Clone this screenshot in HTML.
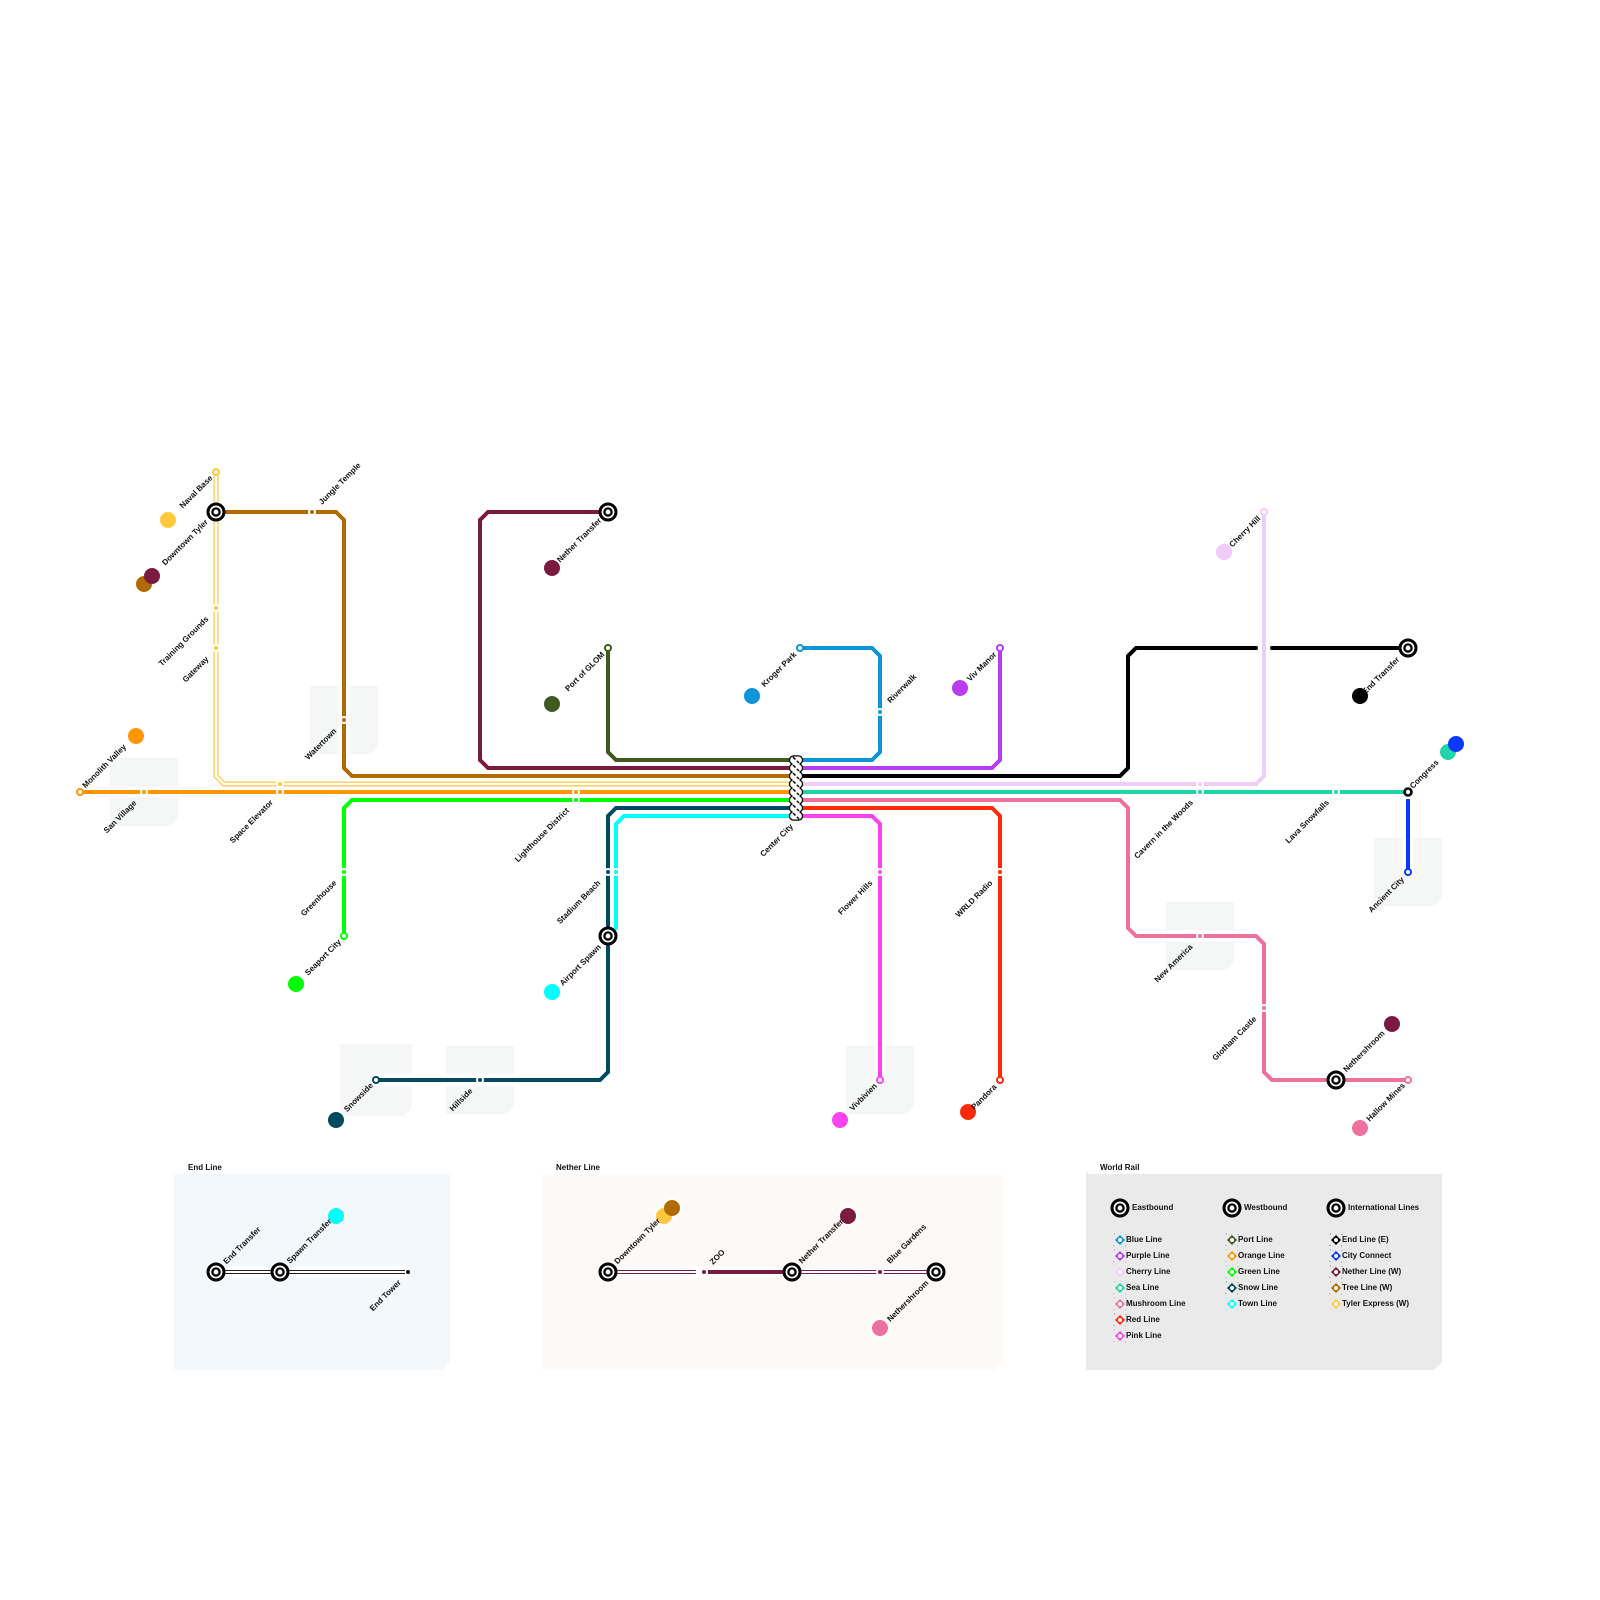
<!DOCTYPE html>
<html><head><meta charset="utf-8"><title>World Rail</title>
<style>
html,body{margin:0;padding:0;background:#fff}
svg{display:block}
text{font-family:"Liberation Sans",Arial,sans-serif;font-weight:700;font-size:8px;fill:#111}
.s{text-anchor:start}.e{text-anchor:end}
.lg{font-size:8px}
.ln path{fill:none;stroke-width:4;stroke-linejoin:miter}
.cs path{fill:none;stroke:#fff;stroke-width:12}
.hb{fill:none;stroke-linecap:round}
</style></head><body>
<svg width="1600" height="1600" viewBox="0 0 1600 1600" xmlns="http://www.w3.org/2000/svg">
<rect width="1600" height="1600" fill="#fff"/>

<!-- water / blocks -->
<g fill="#f5f7f6">
<path d="M110 758h68v60l-8 8h-60z"/>
<path d="M310 686h68v60l-8 8h-60z"/>
<path d="M1374 838h68v60l-8 8h-60z"/>
<path d="M1166 902h68v60l-8 8h-60z"/>
<path d="M340 1044h72v64l-8 8h-64z"/>
<path d="M446 1046h68v60l-8 8h-60z"/>
<path d="M846 1046h68v60l-8 8h-60z"/>
</g>

<!-- inset panels -->
<path d="M174 1174H450V1362l-8 8H174z" fill="#f1f8fe"/>
<path d="M542 1174H1002V1362l-8 8H542z" fill="#fdf9f6"/>
<path d="M1086 1174H1442V1362l-8 8H1086z" fill="#eaeaea"/>
<path d="M1086 1171l3 3h-3z" fill="#eaeaea"/>
<text x="188" y="1170">End Line</text>
<text x="556" y="1170">Nether Line</text>
<text x="1100" y="1170">World Rail</text>

<!-- casings -->
<g class="cs">
<path d="M80 792H789"/>
<path d="M216 512H336L344 520V768L352 776H789"/>
<path d="M216 472V776L224 784H789"/>
<path d="M608 512H488L480 520V760L488 768H789"/>
<path d="M608 648V752L616 760H789"/>
<path d="M344 936V808L352 800H789"/>
<path d="M376 1080H600L608 1072V816L616 808H789"/>
<path d="M608 936L616 928V824L624 816H789"/>
<path d="M800 648H872L880 656V752L872 760H803"/>
<path d="M1000 648V760L992 768H803"/>
<path d="M803 776H1120L1128 768V656L1136 648H1257M1271 648H1408"/>
<path d="M1264 512V776L1256 784H803"/>
<path d="M803 792H1408"/>
<path d="M1408 800V872"/>
<path d="M803 800H1120L1128 808V928L1136 936H1256L1264 944V1072L1272 1080H1408"/>
<path d="M803 808H992L1000 816V1080"/>
<path d="M803 816H872L880 824V1080"/>
<path d="M216 1272H408"/>
<path d="M608 1272H936"/>
</g>

<!-- lines -->
<g class="ln">
<path stroke="#ff9500" d="M80 792H789"/>
<path stroke="#b06a00" d="M216 512H336L344 520V768L352 776H789"/>
<path stroke="#ffc83d" style="stroke-width:5" d="M216 472V776L224 784H789"/>
<path stroke="#fff" style="stroke-width:2.6" d="M216 472V776L224 784H789"/>
<path stroke="#7a1a40" d="M608 512H488L480 520V760L488 768H789"/>
<path stroke="#3e5a1e" d="M608 648V752L616 760H789"/>
<path stroke="#00ff00" d="M344 936V808L352 800H789"/>
<path stroke="#004a60" d="M376 1080H600L608 1072V816L616 808H789"/>
<path stroke="#00ffff" d="M608 936L616 928V824L624 816H789"/>
<path stroke="#0c94d8" d="M800 648H872L880 656V752L872 760H803"/>
<path stroke="#b83cf0" d="M1000 648V760L992 768H803"/>
<path stroke="#000" d="M803 776H1120L1128 768V656L1136 648H1256"/>
<path stroke="#000" d="M1272 648H1408"/>
<path stroke="#f0ccfa" d="M1264 512V776L1256 784H803"/>
<path stroke="#20d4a8" d="M803 792H1408"/>
<path stroke="#0a38ff" d="M1408 799V872"/>
<path stroke="#ee709f" d="M803 800H1120L1128 808V928L1136 936H1256L1264 944V1072L1272 1080H1408"/>
<path stroke="#ff2a0a" d="M803 808H992L1000 816V1080"/>
<path stroke="#fa44f0" d="M803 816H872L880 824V1080"/>
<!-- End line inset -->
<path stroke="#222" style="stroke-width:4" d="M216 1272H405"/>
<path stroke="#fff" style="stroke-width:2" d="M216 1272H405"/>
<!-- Nether inset -->
<path stroke="#7a1a40" style="stroke-width:4" d="M608 1272H696M792 1272H936"/>
<path stroke="#fff" style="stroke-width:2" d="M608 1272H696M792 1272H936"/>
<path stroke="#7a1a40" d="M708 1272H792"/>
</g>

<!-- black crossing caps -->
<circle cx="1256" cy="648" r="2" fill="#000"/><circle cx="1272" cy="648" r="2" fill="#000"/>

<!-- small stations: halo + dot -->
<g fill="#fff">
<circle cx="312" cy="512" r="4"/><circle cx="344" cy="720" r="4"/><circle cx="216" cy="608" r="4"/><circle cx="216" cy="648" r="4"/>
<circle cx="144" cy="792" r="4"/><circle cx="280" cy="792" r="4"/><circle cx="280" cy="784" r="4"/>
<circle cx="576" cy="792" r="4"/><circle cx="576" cy="800" r="4"/><circle cx="344" cy="872" r="4"/>
<circle cx="608" cy="872" r="4"/><circle cx="616" cy="872" r="4"/><circle cx="480" cy="1080" r="4"/>
<circle cx="880" cy="712" r="4"/><circle cx="880" cy="872" r="4"/><circle cx="1000" cy="872" r="4"/>
<circle cx="1200" cy="784" r="4"/><circle cx="1200" cy="792" r="4"/><circle cx="1336" cy="792" r="4"/>
<circle cx="1200" cy="936" r="4"/><circle cx="1264" cy="1008" r="4"/>
<circle cx="880" cy="1272" r="4"/>
</g>
<circle cx="312" cy="512" r="2" fill="#b06a00"/><circle cx="344" cy="720" r="2" fill="#b06a00"/>
<circle cx="216" cy="608" r="2" fill="#ffc83d"/><circle cx="216" cy="648" r="2" fill="#ffc83d"/><circle cx="280" cy="784" r="2" fill="#ffc83d"/>
<circle cx="144" cy="792" r="2" fill="#ff9500"/><circle cx="280" cy="792" r="2" fill="#ff9500"/><circle cx="576" cy="792" r="2" fill="#ff9500"/>
<circle cx="576" cy="800" r="2" fill="#00ff00"/><circle cx="344" cy="872" r="2" fill="#00ff00"/>
<circle cx="608" cy="872" r="2" fill="#004a60"/><circle cx="480" cy="1080" r="2" fill="#004a60"/><circle cx="616" cy="872" r="2" fill="#00ffff"/>
<circle cx="880" cy="712" r="2" fill="#0c94d8"/><circle cx="880" cy="872" r="2" fill="#fa44f0"/><circle cx="1000" cy="872" r="2" fill="#ff2a0a"/>
<circle cx="1200" cy="784" r="2" fill="#f0ccfa"/><circle cx="1200" cy="792" r="2" fill="#20d4a8"/><circle cx="1336" cy="792" r="2" fill="#20d4a8"/>
<circle cx="1200" cy="936" r="2" fill="#ee709f"/><circle cx="1264" cy="1008" r="2" fill="#ee709f"/>
<circle cx="408" cy="1272" r="2" fill="#111"/><circle cx="704" cy="1272" r="2" fill="#7a1a40"/><circle cx="880" cy="1272" r="2" fill="#7a1a40"/>

<!-- terminals -->
<g fill="#fff" stroke-width="2">
<circle cx="216" cy="472" r="3" stroke="#ffc83d"/>
<circle cx="80" cy="792" r="3" stroke="#ff9500"/>
<circle cx="608" cy="648" r="3" stroke="#3e5a1e"/>
<circle cx="800" cy="648" r="3" stroke="#0c94d8"/>
<circle cx="1000" cy="648" r="3" stroke="#b83cf0"/>
<circle cx="1264" cy="512" r="3" stroke="#f0ccfa"/>
<circle cx="344" cy="936" r="3" stroke="#00ff00"/>
<circle cx="376" cy="1080" r="3" stroke="#004a60"/>
<circle cx="880" cy="1080" r="3" stroke="#fa44f0"/>
<circle cx="1000" cy="1080" r="3" stroke="#ff2a0a"/>
<circle cx="1408" cy="872" r="3" stroke="#0a38ff"/>
<circle cx="1408" cy="1080" r="3" stroke="#ee709f"/>
</g>
<circle cx="1408" cy="792" r="3.5" fill="#fff" stroke="#000" stroke-width="2.6"/>

<!-- interchanges -->
<g fill="#fff" stroke="#000">
<g stroke-width="3">
<circle cx="216" cy="512" r="8"/><circle cx="608" cy="512" r="8"/><circle cx="608" cy="936" r="8"/>
<circle cx="1408" cy="648" r="8"/><circle cx="1336" cy="1080" r="8"/><circle cx="216" cy="1272" r="8"/>
<circle cx="280" cy="1272" r="8"/><circle cx="608" cy="1272" r="8"/><circle cx="792" cy="1272" r="8"/>
<circle cx="936" cy="1272" r="8"/><circle cx="1120" cy="1208" r="8"/><circle cx="1232" cy="1208" r="8"/><circle cx="1336" cy="1208" r="8"/>
</g>
<g stroke-width="2.3">
<circle cx="216" cy="512" r="3.6"/><circle cx="608" cy="512" r="3.6"/><circle cx="608" cy="936" r="3.6"/>
<circle cx="1408" cy="648" r="3.6"/><circle cx="1336" cy="1080" r="3.6"/><circle cx="216" cy="1272" r="3.6"/>
<circle cx="280" cy="1272" r="3.6"/><circle cx="608" cy="1272" r="3.6"/><circle cx="792" cy="1272" r="3.6"/>
<circle cx="936" cy="1272" r="3.6"/><circle cx="1120" cy="1208" r="3.6"/><circle cx="1232" cy="1208" r="3.6"/><circle cx="1336" cy="1208" r="3.6"/>
</g>
</g>

<!-- hub -->
<g class="hb" stroke="#000" stroke-width="9.6">
<path d="M793.6 760h4.8M793.6 768h4.8M793.6 776h4.8M793.6 784h4.8M793.6 792h4.8M793.6 800h4.8M793.6 808h4.8M793.6 816h4.8"/>
</g>
<path d="M796 760V816" stroke="#000" stroke-width="10" fill="none"/>
<g class="hb" stroke="#fff" stroke-width="7">
<path d="M793.6 760h4.8M793.6 768h4.8M793.6 776h4.8M793.6 784h4.8M793.6 792h4.8M793.6 800h4.8M793.6 808h4.8M793.6 816h4.8"/>
</g>
<path d="M796 760V816" stroke="#fff" stroke-width="7" fill="none"/>
<path d="M793 757l6 6M793 765l6 6M793 773l6 6M793 781l6 6M793 789l6 6M793 797l6 6M793 805l6 6M793 813l6 6" stroke="#000" stroke-width="1.5" stroke-dasharray="3.5 2" fill="none"/>

<!-- big line dots -->
<g>
<circle cx="168" cy="520" r="8" fill="#ffc83d"/>
<circle cx="144" cy="584" r="8" fill="#b06a00"/><circle cx="152" cy="576" r="8" fill="#7a1a40"/>
<circle cx="136" cy="736" r="8" fill="#ff9500"/>
<circle cx="552" cy="568" r="8" fill="#7a1a40"/>
<circle cx="552" cy="704" r="8" fill="#3e5a1e"/>
<circle cx="752" cy="696" r="8" fill="#0c94d8"/>
<circle cx="960" cy="688" r="8" fill="#b83cf0"/>
<circle cx="1224" cy="552" r="8" fill="#f0ccfa"/>
<circle cx="1360" cy="696" r="8" fill="#000"/>
<circle cx="1448" cy="752" r="8" fill="#20d4a8"/><circle cx="1456" cy="744" r="8" fill="#0a38ff"/>
<circle cx="296" cy="984" r="8" fill="#00ff00"/>
<circle cx="552" cy="992" r="8" fill="#00ffff"/>
<circle cx="336" cy="1120" r="8" fill="#004a60"/>
<circle cx="840" cy="1120" r="8" fill="#fa44f0"/>
<circle cx="968" cy="1112" r="8" fill="#ff2a0a"/>
<circle cx="1392" cy="1024" r="8" fill="#7a1a40"/>
<circle cx="1360" cy="1128" r="8" fill="#ee709f"/>
<g fill="#fff">
<circle cx="336" cy="1216" r="10"/><circle cx="664" cy="1216" r="10"/><circle cx="672" cy="1208" r="10"/><circle cx="848" cy="1216" r="10"/><circle cx="880" cy="1328" r="10"/>
</g>
<circle cx="336" cy="1216" r="8" fill="#00ffff"/>
<circle cx="664" cy="1216" r="8" fill="#ffc83d"/><circle cx="672" cy="1208" r="8" fill="#b06a00"/>
<circle cx="848" cy="1216" r="8" fill="#7a1a40"/>
<circle cx="880" cy="1328" r="8" fill="#ee709f"/>
</g>

<!-- station labels -->
<text class="e" transform="translate(213 478.5) rotate(-45)">Naval Base</text>
<text class="e" transform="translate(208.5 522.5) rotate(-45)">Downtown Tyler</text>
<text class="s" transform="translate(322 505) rotate(-45)">Jungle Temple</text>
<text class="e" transform="translate(209 619.5) rotate(-45)">Training Grounds</text>
<text class="e" transform="translate(209 659.5) rotate(-45)">Gateway</text>
<text class="e" transform="translate(337 731.5) rotate(-45)">Watertown</text>
<text class="s" transform="translate(85.5 788.5) rotate(-45)">Monolith Valley</text>
<text class="e" transform="translate(137 803.5) rotate(-45)">San Village</text>
<text class="e" transform="translate(273.5 803) rotate(-45)">Space Elevator</text>
<text class="e" transform="translate(569.5 811) rotate(-45)">Lighthouse District</text>
<text class="e" transform="translate(793.5 827) rotate(-45)">Center City</text>
<text class="e" transform="translate(337 883.5) rotate(-45)">Greenhouse</text>
<text class="e" transform="translate(341.5 942.5) rotate(-45)">Seaport City</text>
<text class="e" transform="translate(602 521) rotate(-45)">Nether Transfer</text>
<text class="e" transform="translate(605 655) rotate(-45)">Port of GLOM</text>
<text class="e" transform="translate(601 883.5) rotate(-45)">Stadium Beach</text>
<text class="e" transform="translate(601.5 947.5) rotate(-45)">Airport Spawn</text>
<text class="e" transform="translate(373.5 1086) rotate(-45)">Snowside</text>
<text class="e" transform="translate(473 1091.5) rotate(-45)">Hillside</text>
<text class="e" transform="translate(797 655) rotate(-45)">Kroger Park</text>
<text class="s" transform="translate(890.5 703.5) rotate(-45)">Riverwalk</text>
<text class="e" transform="translate(997 655) rotate(-45)">Viv Manor</text>
<text class="e" transform="translate(873 883.5) rotate(-45)">Flower Hills</text>
<text class="e" transform="translate(993 883.5) rotate(-45)">WRLD Radio</text>
<text class="e" transform="translate(877.5 1086.5) rotate(-45)">Vivbivien</text>
<text class="e" transform="translate(997 1087.5) rotate(-45)">Pandora</text>
<text class="e" transform="translate(1261 519) rotate(-45)">Cherry Hill</text>
<text class="e" transform="translate(1400 660) rotate(-45)">End Transfer</text>
<text class="s" transform="translate(1413 789) rotate(-45)">Congress</text>
<text class="e" transform="translate(1193.5 803) rotate(-45)">Cavern in the Woods</text>
<text class="e" transform="translate(1329.5 803) rotate(-45)">Lava Snowfalls</text>
<text class="e" transform="translate(1404.5 880) rotate(-45)">Ancient City</text>
<text class="e" transform="translate(1193 947.5) rotate(-45)">New America</text>
<text class="e" transform="translate(1257 1019.5) rotate(-45)">Glotham Castle</text>
<text class="s" transform="translate(1346.5 1072.5) rotate(-45)">Nethershroom</text>
<text class="e" transform="translate(1405.5 1086) rotate(-45)">Hallow Mines</text>
<!-- inset labels -->
<text class="s" transform="translate(226.5 1264.5) rotate(-45)">End Transfer</text>
<text class="s" transform="translate(290 1264) rotate(-45)">Spawn Transfer</text>
<text class="e" transform="translate(401.5 1283) rotate(-45)">End Tower</text>
<text class="s" transform="translate(617.5 1264.5) rotate(-45)">Downtown Tyler</text>
<text class="s" transform="translate(713 1265) rotate(-45)">ZOO</text>
<text class="s" transform="translate(802 1264) rotate(-45)">Nether Transfer</text>
<text class="s" transform="translate(890 1264) rotate(-45)">Blue Gardens</text>
<text class="e" transform="translate(929 1283.5) rotate(-45)">Nethershroom</text>

<!-- legend -->
<text x="1132" y="1210" class="lg">Eastbound</text>
<text x="1244" y="1210" class="lg">Westbound</text>
<text x="1348" y="1210" class="lg">International Lines</text>

<g fill="none" stroke-width="1" stroke-dasharray="1 11" opacity=".6">
<rect x="1114" y="1234" width="12" height="12" stroke="#0c94d8"/><rect x="1114" y="1250" width="12" height="12" stroke="#b83cf0"/><rect x="1114" y="1266" width="12" height="12" stroke="#f0ccfa"/><rect x="1114" y="1282" width="12" height="12" stroke="#20d4a8"/><rect x="1114" y="1298" width="12" height="12" stroke="#ee709f"/><rect x="1114" y="1314" width="12" height="12" stroke="#ff2a0a"/><rect x="1114" y="1330" width="12" height="12" stroke="#fa44f0"/>
<rect x="1226" y="1234" width="12" height="12" stroke="#3e5a1e"/><rect x="1226" y="1250" width="12" height="12" stroke="#ff9500"/><rect x="1226" y="1266" width="12" height="12" stroke="#00ff00"/><rect x="1226" y="1282" width="12" height="12" stroke="#004a60"/><rect x="1226" y="1298" width="12" height="12" stroke="#00ffff"/>
<rect x="1330" y="1234" width="12" height="12" stroke="#000"/><rect x="1330" y="1250" width="12" height="12" stroke="#0a38ff"/><rect x="1330" y="1266" width="12" height="12" stroke="#7a1a40"/><rect x="1330" y="1282" width="12" height="12" stroke="#b06a00"/><rect x="1330" y="1298" width="12" height="12" stroke="#ffc83d"/>
</g>
<g>
<path d="M1120 1235l5 5-5 5-5-5z" fill="#0c94d8"/><path d="M1120 1251l5 5-5 5-5-5z" fill="#b83cf0"/><path d="M1120 1267l5 5-5 5-5-5z" fill="#f0ccfa"/><path d="M1120 1283l5 5-5 5-5-5z" fill="#20d4a8"/><path d="M1120 1299l5 5-5 5-5-5z" fill="#ee709f"/><path d="M1120 1315l5 5-5 5-5-5z" fill="#ff2a0a"/><path d="M1120 1331l5 5-5 5-5-5z" fill="#fa44f0"/>
<path d="M1232 1235l5 5-5 5-5-5z" fill="#3e5a1e"/><path d="M1232 1251l5 5-5 5-5-5z" fill="#ff9500"/><path d="M1232 1267l5 5-5 5-5-5z" fill="#00ff00"/><path d="M1232 1283l5 5-5 5-5-5z" fill="#004a60"/><path d="M1232 1299l5 5-5 5-5-5z" fill="#00ffff"/>
<path d="M1336 1235l5 5-5 5-5-5z" fill="#000"/><path d="M1336 1251l5 5-5 5-5-5z" fill="#0a38ff"/><path d="M1336 1267l5 5-5 5-5-5z" fill="#7a1a40"/><path d="M1336 1283l5 5-5 5-5-5z" fill="#b06a00"/><path d="M1336 1299l5 5-5 5-5-5z" fill="#ffc83d"/>
</g>
<g fill="#fff">
<circle cx="1120" cy="1240" r="2"/><circle cx="1120" cy="1256" r="2"/><circle cx="1120" cy="1272" r="2"/><circle cx="1120" cy="1288" r="2"/><circle cx="1120" cy="1304" r="2"/><circle cx="1120" cy="1320" r="2"/><circle cx="1120" cy="1336" r="2"/>
<circle cx="1232" cy="1240" r="2"/><circle cx="1232" cy="1256" r="2"/><circle cx="1232" cy="1272" r="2"/><circle cx="1232" cy="1288" r="2"/><circle cx="1232" cy="1304" r="2"/>
<circle cx="1336" cy="1240" r="2"/><circle cx="1336" cy="1256" r="2"/><circle cx="1336" cy="1272" r="2"/><circle cx="1336" cy="1288" r="2"/><circle cx="1336" cy="1304" r="2"/>
</g>
<g class="lg">
<text class="lg" x="1126" y="1242">Blue Line</text>
<text class="lg" x="1126" y="1258">Purple Line</text>
<text class="lg" x="1126" y="1274">Cherry Line</text>
<text class="lg" x="1126" y="1290">Sea Line</text>
<text class="lg" x="1126" y="1306">Mushroom Line</text>
<text class="lg" x="1126" y="1322">Red Line</text>
<text class="lg" x="1126" y="1338">Pink Line</text>
<text class="lg" x="1238" y="1242">Port Line</text>
<text class="lg" x="1238" y="1258">Orange Line</text>
<text class="lg" x="1238" y="1274">Green Line</text>
<text class="lg" x="1238" y="1290">Snow Line</text>
<text class="lg" x="1238" y="1306">Town Line</text>
<text class="lg" x="1342" y="1242">End Line (E)</text>
<text class="lg" x="1342" y="1258">City Connect</text>
<text class="lg" x="1342" y="1274">Nether Line (W)</text>
<text class="lg" x="1342" y="1290">Tree Line (W)</text>
<text class="lg" x="1342" y="1306">Tyler Express (W)</text>
</g>
</svg>
</body></html>
